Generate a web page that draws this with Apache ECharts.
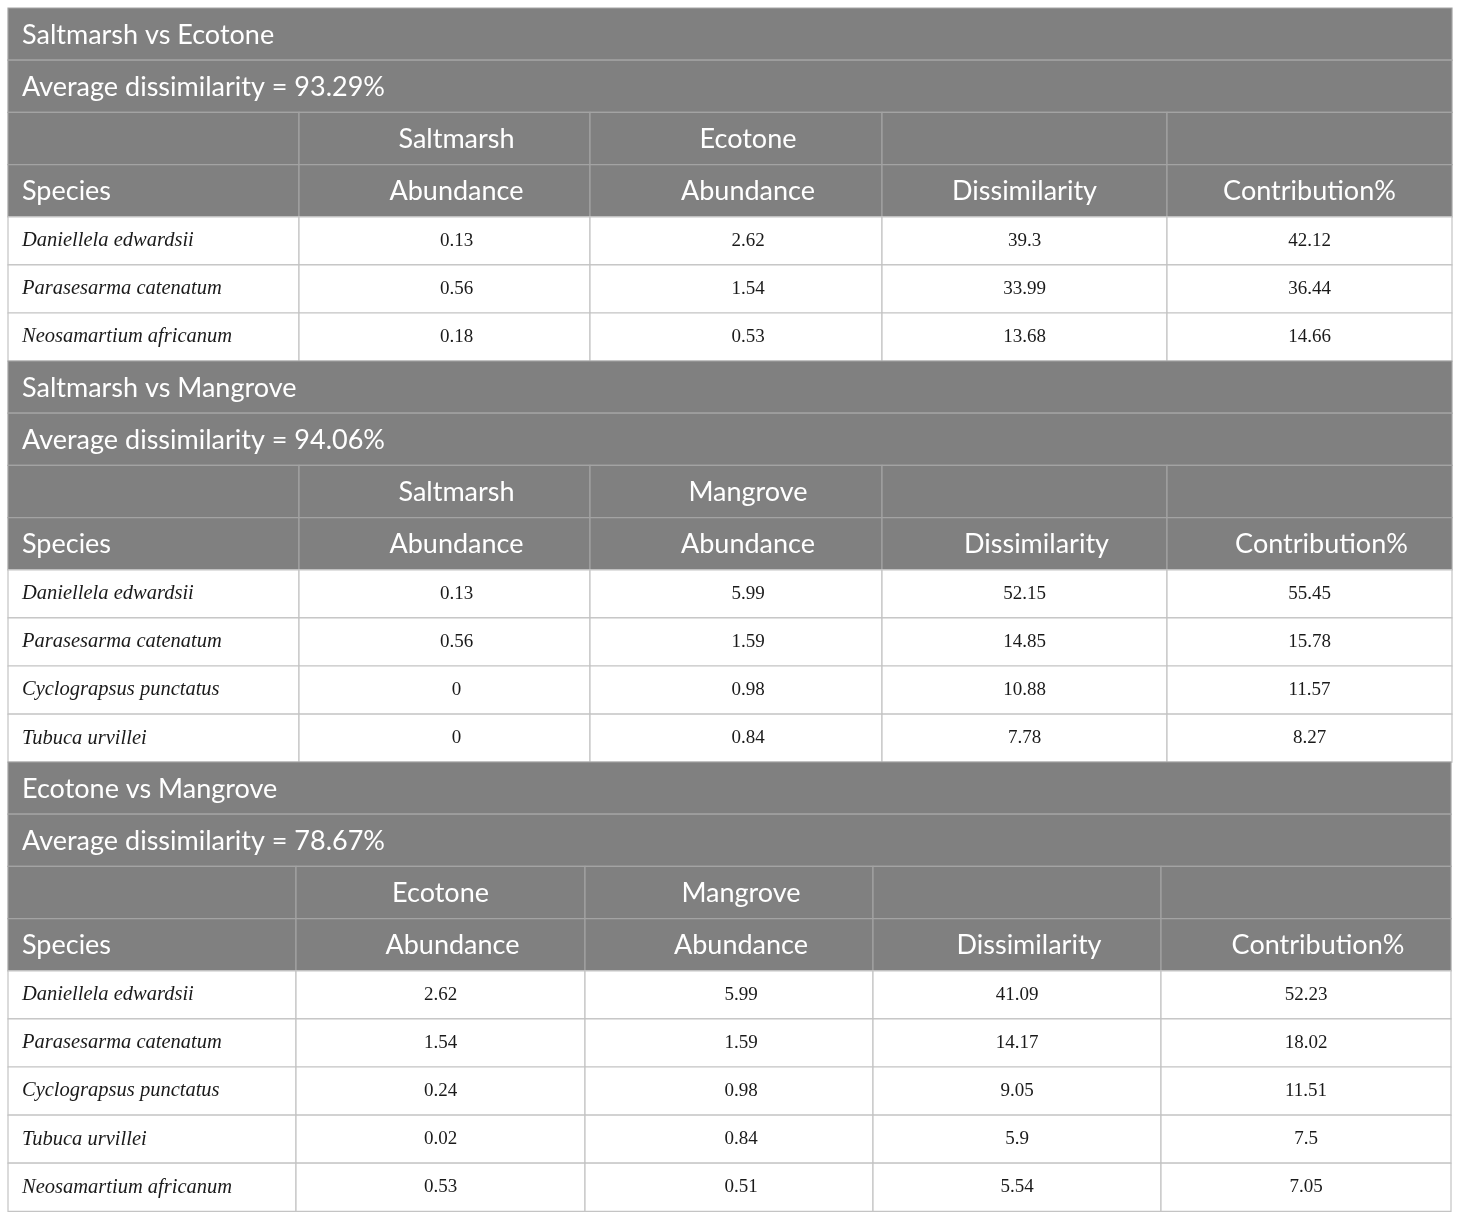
<!DOCTYPE html>
<html>
<head>
<meta charset="utf-8">
<script src="https://cdn.jsdelivr.net/npm/echarts@6/dist/echarts.min.js"></script>
<style>
  html, body { margin: 0; padding: 0; background: #fff; }
  #main { width: 1460px; height: 1220px; }
</style>
</head>
<body>
<div id="main"></div>
<script>
// table content
var comparisons = ['Saltmarsh vs Ecotone', 'Saltmarsh vs Mangrove', 'Ecotone vs Mangrove'];
var avgDissimilarity = ['93.29', '94.06', '78.67'];
var groupA = ['Saltmarsh', 'Saltmarsh', 'Ecotone'];
var groupB = ['Ecotone', 'Mangrove', 'Mangrove'];
var columnLabels = ['Species', 'Abundance', 'Abundance', 'Dissimilarity', 'Contribution%'];

var species1 = ['Daniellela edwardsii', 'Parasesarma catenatum', 'Neosamartium africanum'];
var abundA1 = [0.13, 0.56, 0.18];
var abundB1 = [2.62, 1.54, 0.53];
var dissim1 = [39.3, 33.99, 13.68];
var contrib1 = [42.12, 36.44, 14.66];

var species2 = ['Daniellela edwardsii', 'Parasesarma catenatum', 'Cyclograpsus punctatus', 'Tubuca urvillei'];
var abundA2 = [0.13, 0.56, 0, 0];
var abundB2 = [5.99, 1.59, 0.98, 0.84];
var dissim2 = [52.15, 14.85, 10.88, 7.78];
var contrib2 = [55.45, 15.78, 11.57, 8.27];

var species3 = ['Daniellela edwardsii', 'Parasesarma catenatum', 'Cyclograpsus punctatus', 'Tubuca urvillei', 'Neosamartium africanum'];
var abundA3 = [2.62, 1.54, 0.24, 0.02, 0.53];
var abundB3 = [5.99, 1.59, 0.98, 0.84, 0.51];
var dissim3 = [41.09, 14.17, 9.05, 5.9, 5.54];
var contrib3 = [52.23, 18.02, 11.51, 7.5, 7.05];

var speciesLists = [species1, species2, species3];
var valueLists = [
  [abundA1, abundB1, dissim1, contrib1],
  [abundA2, abundB2, dissim2, contrib2],
  [abundA3, abundB3, dissim3, contrib3]
];

// layout (table units = pixels of the page)
var columnEdges = [
  [8, 299, 590, 882, 1167, 1452],
  [8, 299, 590, 882, 1167, 1452],
  [8, 296, 585, 873, 1161, 1451]
];
var blockTops = [8, 361, 762];
var headerRowH = 52.2;
var dataRowH = 48.1;
var padLeft = 14;
var groupShift = [[12, 12], [12, 12], [0, 12]];
var labelShift = [[0, 12, 12, 0, 0], [0, 12, 12, 12, 12], [0, 12, 12, 12, 12]];
var dataShift = [[0, 12, 12, 0, 0], [0, 12, 12, 0, 0], [0, 0, 12, 0, 0]];

// kinds: 0 title row, 1 header cell, 2 species cell, 3 value cell
function buildCells() {
  var cells = [];
  for (var b = 0; b < comparisons.length; b++) {
    var e = columnEdges[b];
    var y = blockTops[b];
    var left = e[0], right = e[e.length - 1];
    cells.push([left, y, right, y + headerRowH, comparisons[b], 0, 0]);
    y += headerRowH;
    cells.push([left, y, right, y + headerRowH, 'Average dissimilarity = ' + avgDissimilarity[b] + '%', 0, 0]);
    y += headerRowH;
    var groupRow = ['', groupA[b], groupB[b], '', ''];
    for (var c = 0; c < 5; c++) {
      var s = (c === 1 || c === 2) ? groupShift[b][c - 1] : 0;
      cells.push([e[c], y, e[c + 1], y + headerRowH, groupRow[c], 1, s]);
    }
    y += headerRowH;
    for (c = 0; c < 5; c++) {
      cells.push([e[c], y, e[c + 1], y + headerRowH, columnLabels[c], c === 0 ? 0 : 1, labelShift[b][c]]);
    }
    y += headerRowH;
    var sp = speciesLists[b];
    for (var r = 0; r < sp.length; r++) {
      cells.push([e[0], y, e[1], y + dataRowH, sp[r], 2, 0]);
      for (c = 1; c < 5; c++) {
        cells.push([e[c], y, e[c + 1], y + dataRowH, String(valueLists[b][c - 1][r]), 3, dataShift[b][c]]);
      }
      y += dataRowH;
    }
  }
  return cells;
}

var chart = echarts.init(document.getElementById('main'), null, { renderer: 'canvas' });

function renderCell(params, api) {
  var p0 = api.coord([api.value(0), api.value(1)]);
  var p1 = api.coord([api.value(2), api.value(3)]);
  var kind = api.value(5);
  var text = api.value(4);
  var shift = api.value(6);
  var header = kind < 2;
  var x = p0[0], w = p1[0] - p0[0];
  var yTop = Math.min(p0[1], p1[1]), h = Math.abs(p1[1] - p0[1]);
  var font = header ? '27px Lato' : (kind === 2 ? 'italic 20.5px "Liberation Serif"' : '19px "Liberation Serif"');
  var centered = (kind === 1 || kind === 3);
  return {
    type: 'group',
    children: [
      {
        type: 'rect',
        shape: { x: x, y: yTop, width: w, height: h },
        style: {
          fill: header ? '#808080' : '#ffffff',
          stroke: header ? '#a3a3a3' : '#c4c4c4',
          lineWidth: 1.2
        }
      },
      {
        type: 'text',
        style: {
          text: text,
          x: centered ? x + w / 2 + shift : x + padLeft,
          y: yTop + h / 2 + (header ? 1 : 0),
          align: centered ? 'center' : 'left',
          verticalAlign: 'middle',
          font: font,
          fill: header ? '#ffffff' : '#1a1a1a'
        }
      }
    ]
  };
}

option = {
  animation: false,
  grid: { left: 0, right: 0, top: 0, bottom: 0 },
  xAxis: { type: 'value', min: 0, max: 1460, show: false },
  yAxis: { type: 'value', min: 0, max: 1220, inverse: true, show: false },
  series: [
    {
      type: 'custom',
      renderItem: renderCell,
      encode: { x: [0, 2], y: [1, 3] },
      data: buildCells()
    }
  ]
};

chart.setOption(option);
</script>
</body>
</html>
